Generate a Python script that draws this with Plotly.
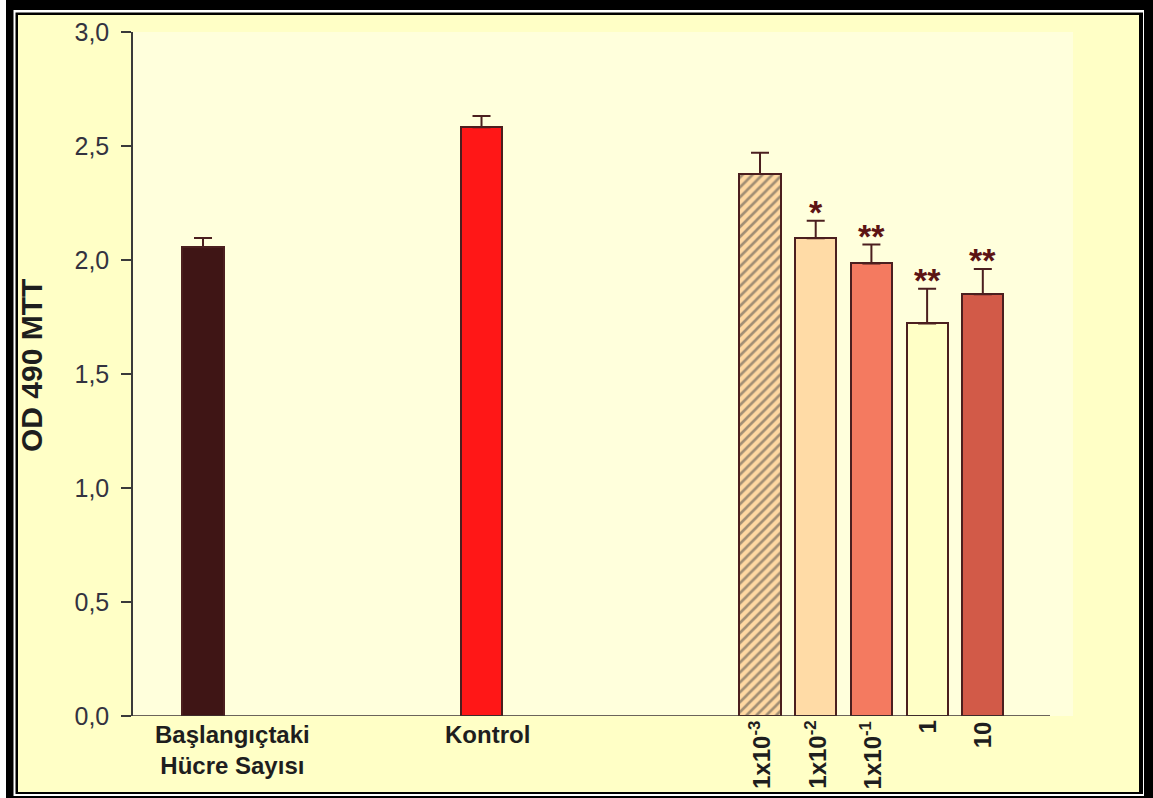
import plotly.graph_objects as go

# ---- data ----
categories = ["Başlangıçtaki<br>Hücre Sayısı", "Kontrol", "1x10<sup>-3</sup>", "1x10<sup>-2</sup>",
              "1x10<sup>-1</sup>", "1", "10"]
positions = [0, 5, 10, 11, 12, 13, 14]
values = [2.056, 2.582, 2.377, 2.095, 1.985, 1.722, 1.850]
errors = [0.040, 0.050, 0.093, 0.077, 0.083, 0.152, 0.110]
significance = ["", "", "", "*", "**", "**", "**"]
bar_colors = ["#3F1515", "#FF1717", "#FFD9A2", "#FFDBA6", "#F47A60", "#FFFFC6", "#D25A48"]
patterns = ["", "", "/", "", "", "", ""]
y_ticks = [0.0, 0.5, 1.0, 1.5, 2.0, 2.5, 3.0]

W, H = 1153, 798
L, R, T, B = 133, 80, 32, 82
PW, PH = W - L - R, H - T - B


def px(x):
    return (x - L) / PW


def py(y):
    return (H - B - y) / PH


OUT = "#4B1F1F"
FONT = "Liberation Sans, Arial, sans-serif"

fig = go.Figure()
fig.add_trace(go.Bar(
    x=positions, y=values, width=0.74,
    marker=dict(color=bar_colors, line=dict(color=OUT, width=2),
                pattern=dict(shape=patterns, fgcolor="#3E1812", size=7, solidity=0.38,
                             fillmode="overlay")),
    error_y=dict(type="data", symmetric=False, array=errors, arrayminus=[0] * len(errors),
                 color=OUT, thickness=2, width=9),
    showlegend=False,
))

shapes = [
    dict(type="rect", xref="paper", yref="paper", x0=px(6), x1=px(1153), y0=py(0), y1=py(798),
         fillcolor="black", line=dict(width=0), layer="below"),
    dict(type="rect", xref="paper", yref="paper", x0=px(13.5), x1=px(1144), y0=py(10), y1=py(796),
         fillcolor="white", line=dict(width=0), layer="below"),
    dict(type="rect", xref="paper", yref="paper", x0=px(15.5), x1=px(1143), y0=py(12.5), y1=py(794),
         fillcolor="black", line=dict(width=0), layer="below"),
    dict(type="rect", xref="paper", yref="paper", x0=px(18), x1=px(1139), y0=py(15), y1=py(792),
         fillcolor="#FFFFC6", line=dict(width=0), layer="below"),
    dict(type="rect", xref="paper", yref="paper", x0=0, x1=1, y0=0, y1=1,
         fillcolor="#FFFFDC", line=dict(width=0), layer="below"),
    dict(type="line", xref="paper", yref="y", x0=0, x1=px(1050), y0=0, y1=0,
         line=dict(color="#3A3030", width=1.5)),
]

annotations = []
# asterisks
for p, v, e, s in zip(positions, values, errors, significance):
    if s:
        annotations.append(dict(x=p, y=v + e, xref="x", yref="y", text="<b>" + s + "</b>",
                                showarrow=False, yanchor="bottom", yshift=-12,
                                font=dict(family=FONT, size=34, color="#5C1414")))
# x labels
label_shift = [29, 6, 0, 0, 0, 0, 0]
for i, (p, c) in enumerate(zip(positions, categories)):
    if i < 2:
        annotations.append(dict(x=p, y=py(719), xref="x", yref="paper", text="<b>" + c + "</b>",
                                showarrow=False, yanchor="top", xanchor="center",
                                xshift=label_shift[i],
                                font=dict(family=FONT, size=24, color="#1E1E1E")))
    else:
        annotations.append(dict(x=p, y=py(719), xref="x", yref="paper", text="<b>" + c + "</b>",
                                showarrow=False, yanchor="top", xanchor="center", textangle=-90,
                                font=dict(family=FONT, size=24, color="#1E1E1E")))
# y title
annotations.append(dict(x=px(31), y=py(366), xref="paper", yref="paper",
                        text="<b>OD 490 MTT</b>", textangle=-90, showarrow=False,
                        xanchor="center", yanchor="middle",
                        font=dict(family=FONT, size=30, color="#1E1E1E")))

fig.update_layout(
    width=W, height=H,
    margin=dict(l=L, r=R, t=T, b=B, autoexpand=False),
    paper_bgcolor="white", plot_bgcolor="rgba(0,0,0,0)",
    separators=",.",
    bargap=0,
    shapes=shapes, annotations=annotations,
    xaxis=dict(range=[-1.257, -1.257 + PW / 55.7], showticklabels=False, showgrid=False,
               zeroline=False, showline=False, ticks=""),
    yaxis=dict(range=[0, 3.0], tickvals=y_ticks, tickformat=".1f", showgrid=False,
               zeroline=False, showline=True, linecolor="#3A3A3A", linewidth=1.5,
               ticks="outside", ticklen=10, tickwidth=1.5, tickcolor="#3A3A3A",
               ticklabelstandoff=7,
               tickfont=dict(family=FONT, size=25, color="#333340")),
)

fig.write_html("out.html")
